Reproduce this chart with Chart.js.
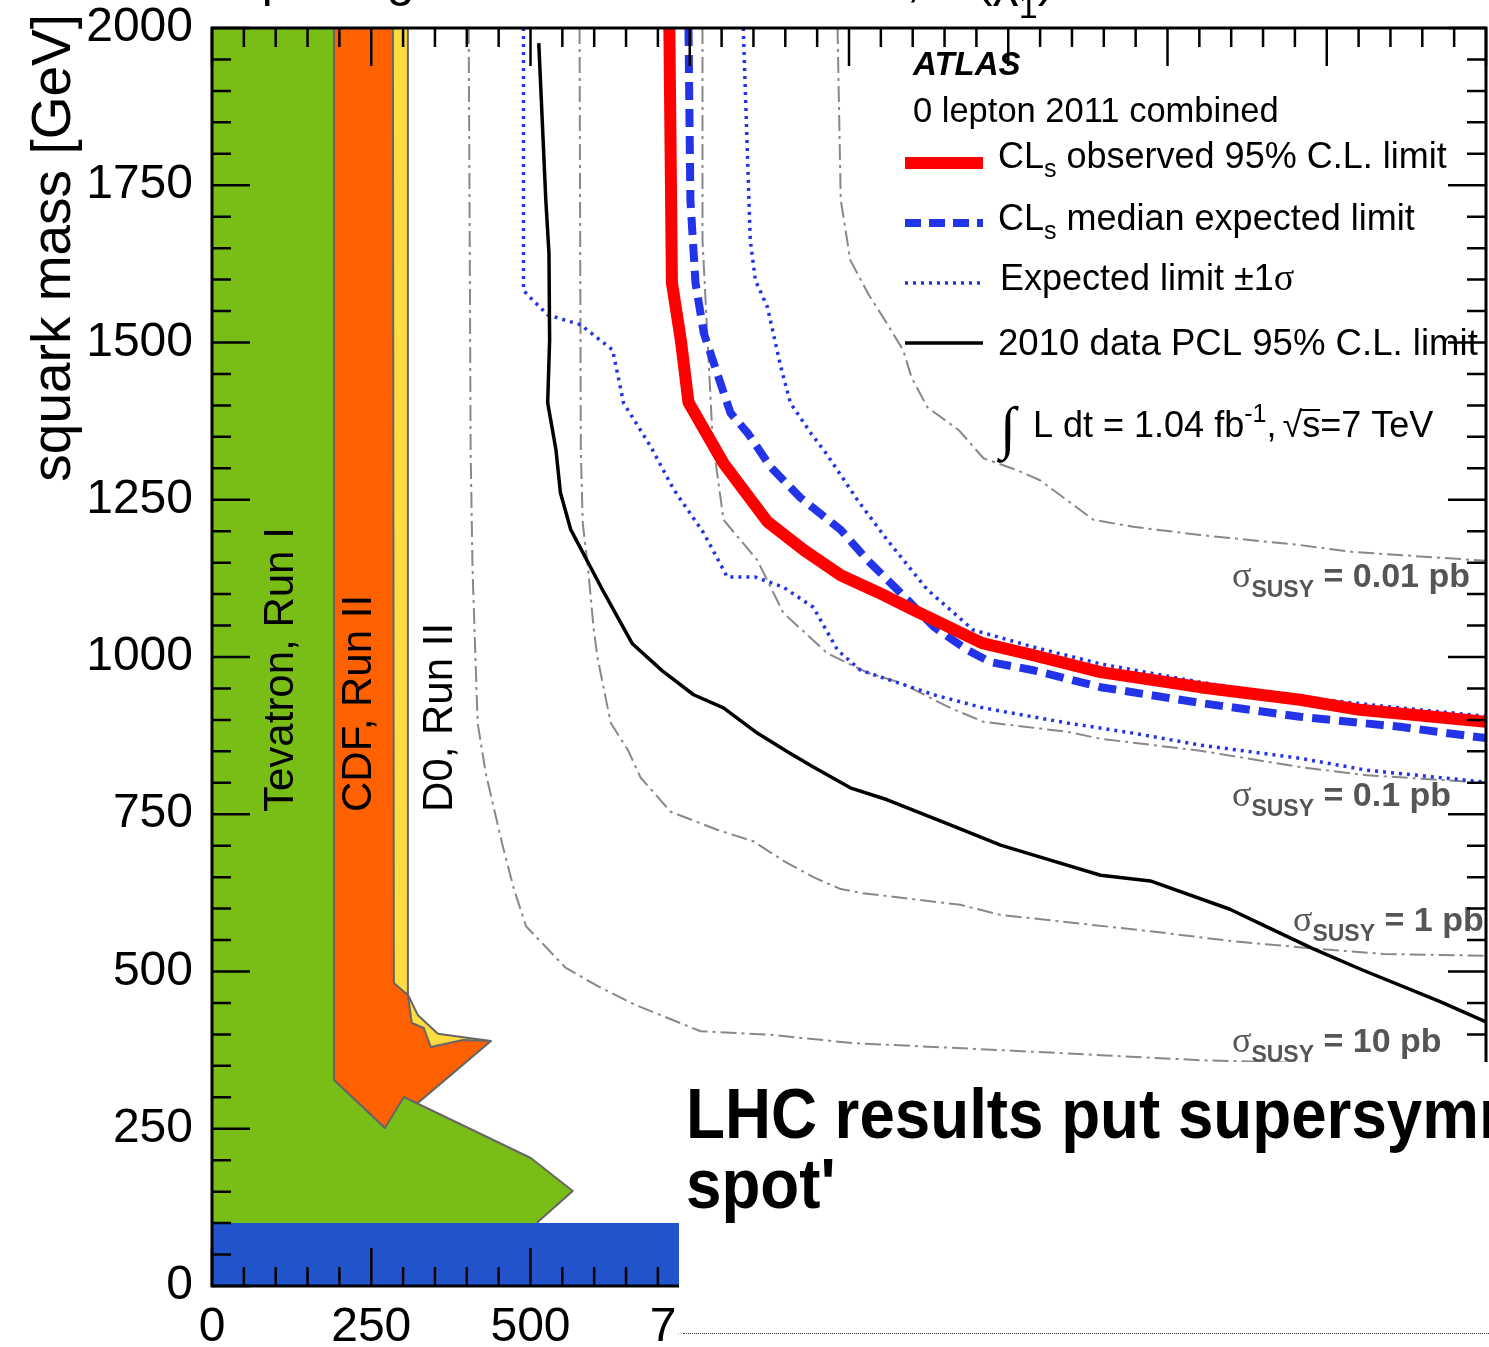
<!DOCTYPE html>
<html>
<head>
<meta charset="utf-8">
<script src="https://cdn.jsdelivr.net/npm/chart.js@4.4.0/dist/chart.umd.min.js"></script>
<style>
html, body { margin: 0; padding: 0; background: #fff; }
#wrap { position: relative; width: 1489px; height: 1347px; overflow: hidden; }
#c { position: absolute; left: 0; top: 0; }
#news { position: absolute; left: 679px; top: 1062px; width: 810px; height: 285px; background: #fff; overflow: hidden; }
#news .head { position: absolute; left: 7px; top: 17px; font: bold 70px/70px "Liberation Sans", Arial, sans-serif; white-space: nowrap; transform: scaleX(0.91); transform-origin: 0 0; color: #000; }
#news .rule { position: absolute; left: 4px; top: 271px; width: 806px; border-top: 1px dotted #333; }
</style>
</head>
<body>
<div id="wrap">
<canvas id="c" width="1489" height="1347"></canvas>
<div id="news"><div class="head">LHC results put supersymmetry in 'tight<br>spot'</div><div class="rule"></div></div>
</div>
<script>
// gluino mass (x) vs squark mass (y), GeV
const massTicks = [0, 250, 500, 750, 1000, 1250, 1500, 1750, 2000];

// excluded regions
const d0Run2 = [[0,2000],[307.5,2000],[307.5,463],[323,431],[354.5,401],[437.6,389.5],[324.7,292.5],[271.4,251.2],[0,251.2],[0,2000]];
const cdfRun2 = [[0,2000],[284,2000],[285.5,481.7],[307.5,462.6],[313.7,418.1],[332.5,410.2],[343.5,380],[393.7,391.1],[437.6,389.5],[324.7,292.5],[271.4,251.2],[191.4,327.5],[0,327.5],[0,2000]];
const tevatronRun1 = [[0,2000],[191.4,2000],[191.4,327.5],[271.4,251.2],[301.2,300.5],[500.4,203.5],[566.3,151],[511.4,101.7],[500,0],[0,0],[0,2000]];
const lepBand = [[0,0],[0,100],[2000,100],[2000,0],[0,0]];

// limits
const observedCLs = [[718,2000],[722,1595],[736,1504],[748,1405],[803,1308],[872,1215],[929,1170],[987,1130],[1045,1103],[1101,1075],[1144,1054],[1209,1022],[1289,1003],[1395,976],[1551,952],[1708,932],[1802,916],[2000,897]];
const expectedCLs = [[748,2000],[751,1727],[759,1595],[772,1515],[798,1436],[814,1388],[841,1356],[877,1302],[924,1253],[987,1202],[1029,1154],[1081,1102],[1133,1048],[1186,1011],[1222,992],[1289,979],[1395,952],[1551,927],[1708,905],[1865,889],[2000,871]];
const expectedMinus1 = [[489,2000],[489,1583],[497,1574],[527,1544],[579,1528],[629,1488],[642,1424],[646,1404],[689,1334],[725,1266],[772,1197],[809,1127],[853,1127],[897,1111],[944,1079],[982,1011],[1018,979],[1133,940],[1211,919],[1343,895],[1446,879],[1551,860],[1708,839],[1813,820],[2000,801]];
const expectedPlus1 = [[834,2000],[845,1663],[853,1599],[872,1556],[893,1461],[908,1404],[940,1356],[966,1321],[1013,1250],[1060,1186],[1123,1107],[1195,1043],[1289,1016],[1395,989],[1551,960],[1708,936],[1865,919],[2000,906]];
const pcl2010 = [[513,1976],[524,1727],[529,1642],[530,1504],[527,1404],[540,1329],[547,1261],[563,1203],[615,1103],[660,1021],[707,978],[756,940],[803,919],[856,879],[904,849],[944,825],[1002,792],[1060,773],[1159,733],[1238,701],[1316,677],[1395,653],[1473,644],[1598,599],[1656,571],[1729,536],[1807,502],[1928,452],[2000,420]];

// cross-section contours
const xsec10pb = [[403,2000],[405,1568],[406,1329],[409,1140],[417,895],[430,814],[456,701],[474,631],[493,572],[555,506],[605,477],[662,448],[767,405],[882,399],[1007,386],[1238,375],[1395,367],[1551,359],[2000,347]];
const xsec1pb = [[577,2000],[579,1329],[582,1213],[591,1134],[599,1046],[605,1000],[626,895],[653,852],[673,808],[720,754],[794,725],[850,707],[897,676],[944,650],[987,631],[1018,625],[1175,606],[1238,590],[1473,564],[1603,548],[1735,536],[1838,528],[2000,525]];
const xsec01pb = [[770,2000],[770,1663],[778,1504],[786,1345],[803,1218],[856,1154],[897,1070],[966,1006],[1029,975],[1081,959],[1159,919],[1211,897],[1343,881],[1395,870],[1551,851],[1708,825],[1813,812],[2000,800]];
const xsec001pb = [[982,2000],[987,1727],[1002,1631],[1031,1576],[1056,1536],[1085,1488],[1098,1445],[1123,1397],[1172,1361],[1211,1316],[1264,1297],[1300,1281],[1384,1218],[1446,1207],[1551,1194],[1708,1178],[1791,1167],[2000,1153]];

const F = '"Liberation Sans", Arial, Helvetica, sans-serif';
const BLUE = '#2233e8';
const GREY = '#555';

function pts(a) { return a.map(([x, y]) => ({x, y})); }

function region(label, arr, color, order, edge) {
    return { label, data: pts(arr), showLine: true, fill: 'shape', backgroundColor: color,
        borderColor: '#666', borderWidth: edge, pointRadius: 0, order, clip: 0, borderJoinStyle: 'round' };
}
function curve(label, arr, color, width, dash, order) {
    return { label, data: pts(arr), showLine: true, fill: false, borderColor: color, borderWidth: width,
        borderDash: dash, pointRadius: 0, order, clip: 0, borderJoinStyle: 'round' };
}

function runs(ctx, x, y, parts) {
    for (const p of parts) {
        ctx.font = p.f;
        ctx.fillText(p.t, x, y + (p.dy || 0));
        x += ctx.measureText(p.t).width;
    }
    return x;
}

function sample(ctx, y, color, width, dash) {
    ctx.save();
    ctx.strokeStyle = color;
    ctx.lineWidth = width;
    ctx.setLineDash(dash);
    ctx.beginPath();
    ctx.moveTo(905, y);
    ctx.lineTo(983, y);
    ctx.stroke();
    ctx.restore();
}

function sigmaLabel(ctx, x, y, value) {
    ctx.fillStyle = GREY;
    runs(ctx, x, y, [
        {t: '\u03c3', f: `36px "Liberation Serif", serif`},
        {t: 'SUSY', f: `bold 23px ${F}`, dy: 10},
        {t: ' = ' + value, f: `bold 34px ${F}`}
    ]);
}

const annotations = {
    id: 'annotations',
    afterDraw(chart) {
        const ctx = chart.ctx;
        ctx.save();
        ctx.textAlign = 'left';
        ctx.textBaseline = 'alphabetic';
        ctx.fillStyle = '#000';

        // rotated band labels
        const vtext = (t, x, y, size) => {
            ctx.save();
            ctx.translate(x, y);
            ctx.rotate(-Math.PI / 2);
            ctx.font = `${size}px ${F}`;
            ctx.fillText(t, 0, 0);
            ctx.restore();
        };
        vtext('Tevatron, Run I', 293, 812, 42);
        vtext('CDF, Run II', 371, 812, 42);
        vtext('D0, Run II', 452, 812, 42);

        // axis title
        ctx.save();
        ctx.font = `55px ${F}`;
        const tw = ctx.measureText('squark mass [GeV]').width;
        ctx.translate(70, 14 + tw);
        ctx.rotate(-Math.PI / 2);
        ctx.fillText('squark mass [GeV]', 0, 0);
        ctx.restore();

        // plot title, mostly above the picture
        let tx = runs(ctx, 220, -4, [{t: 'squark-gluino-neutralino model, m(\u03c7', f: `50px ${F}`}]);
        tx = runs(ctx, tx, 18, [{t: '1', f: `34px ${F}`}]);
        runs(ctx, tx, -4, [{t: ') = 0', f: `50px ${F}`}]);

        // legend
        ctx.font = `italic bold 33px ${F}`;
        ctx.fillText('ATLAS', 913, 75);
        ctx.font = `34.5px ${F}`;
        ctx.fillText('0 lepton 2011 combined', 913, 122);
        sample(ctx, 163, '#ff0000', 12, []);
        runs(ctx, 998, 168, [{t: 'CL', f: `36px ${F}`}, {t: 's', f: `25px ${F}`, dy: 9}, {t: ' observed 95% C.L. limit', f: `36px ${F}`}]);
        sample(ctx, 223, BLUE, 8, [16, 8]);
        runs(ctx, 998, 230, [{t: 'CL', f: `36px ${F}`}, {t: 's', f: `25px ${F}`, dy: 9}, {t: ' median expected limit', f: `36px ${F}`}]);
        sample(ctx, 283, BLUE, 3.5, [3, 5]);
        runs(ctx, 1000, 290, [{t: 'Expected limit \u00b11', f: `36px ${F}`}, {t: '\u03c3', f: `38px "Liberation Serif", serif`}]);
        sample(ctx, 343, '#000', 3.5, []);
        ctx.font = `36.6px ${F}`;
        ctx.fillText('2010 data PCL 95% C.L. limit', 998, 355);

        ctx.font = `58px "Liberation Serif", serif`;
        ctx.fillText('\u222b', 1000, 447);
        let lx = runs(ctx, 1033, 437, [{t: 'L dt = 1.04 fb', f: `36px ${F}`}, {t: '-1', f: `25px ${F}`, dy: -15}, {t: ', ', f: `36px ${F}`}]);
        ctx.font = `36px ${F}`;
        ctx.fillText('\u221a', lx - 4, 437);
        const rw = ctx.measureText('\u221a').width;
        const sw = ctx.measureText('s').width;
        ctx.fillRect(lx - 4 + rw - 2, 409, sw + 2, 2);
        runs(ctx, lx - 4 + rw, 437, [{t: 's=7 TeV', f: `36px ${F}`}]);

        // cross-section labels
        sigmaLabel(ctx, 1232, 587, '0.01 pb');
        sigmaLabel(ctx, 1232, 806, '0.1 pb');
        sigmaLabel(ctx, 1293, 931, '1 pb');
        sigmaLabel(ctx, 1232, 1052, '10 pb');

        // frame with inward ticks on all sides
        const a = chart.chartArea;
        const sx = chart.scales.x, sy = chart.scales.y;
        ctx.strokeStyle = '#000';
        ctx.lineWidth = 2.5;
        ctx.beginPath();
        for (let v = 0; v <= 2000; v += 50) {
            const len = v % 250 === 0 ? 38 : 19;
            const px = sx.getPixelForValue(v);
            const py = sy.getPixelForValue(v);
            ctx.moveTo(px, a.bottom); ctx.lineTo(px, a.bottom - len);
            ctx.moveTo(px, a.top); ctx.lineTo(px, a.top + len);
            ctx.moveTo(a.left, py); ctx.lineTo(a.left + len, py);
            ctx.moveTo(a.right, py); ctx.lineTo(a.right - len, py);
        }
        ctx.stroke();
        ctx.lineWidth = 3;
        ctx.strokeRect(a.left, a.top, a.right - a.left, a.bottom - a.top);
        ctx.restore();
    }
};

Chart.defaults.font.family = F;

new Chart(document.getElementById('c'), {
    type: 'scatter',
    data: {
        datasets: [
            region('D0, Run II', d0Run2, '#ffdc40', 20, 2),
            region('CDF, Run II', cdfRun2, '#ff6000', 19, 2),
            region('Tevatron, Run I', tevatronRun1, '#79be17', 18, 2),
            region('LEP', lepBand, '#2255cc', 17, 0),
            curve('10 pb', xsec10pb, '#888', 2, [16, 5, 3, 5], 10),
            curve('1 pb', xsec1pb, '#888', 2, [16, 5, 3, 5], 10),
            curve('0.1 pb', xsec01pb, '#888', 2, [16, 5, 3, 5], 10),
            curve('0.01 pb', xsec001pb, '#888', 2, [16, 5, 3, 5], 10),
            curve('Expected -1 sigma', expectedMinus1, BLUE, 3.5, [3, 5], 6),
            curve('Expected +1 sigma', expectedPlus1, BLUE, 3.5, [3, 5], 6),
            curve('2010 data PCL 95% C.L. limit', pcl2010, '#000', 3.5, [], 4),
            curve('CLs median expected limit', expectedCLs, BLUE, 8, [18, 9], 3),
            curve('CLs observed 95% C.L. limit', observedCLs, '#ff0000', 12, [], 1)
        ]
    },
    options: {
        responsive: false,
        animation: false,
        devicePixelRatio: 1,
        layout: { padding: { top: 28, right: 3, left: 0, bottom: 0 } },
        plugins: { legend: { display: false }, tooltip: { enabled: false } },
        scales: {
            x: {
                type: 'linear', min: 0, max: 2000,
                afterBuildTicks: s => { s.ticks = massTicks.map(v => ({value: v})); },
                ticks: { font: { size: 48 }, color: '#000', padding: 13, maxRotation: 0, autoSkip: false, callback: v => String(v) },
                grid: { display: false, drawTicks: false },
                border: { display: false },
                afterFit: s => { s.height = 61; s.paddingLeft = 0; s.paddingRight = 0; }
            },
            y: {
                type: 'linear', min: 0, max: 2000,
                afterBuildTicks: s => { s.ticks = massTicks.map(v => ({value: v})); },
                ticks: { font: { size: 48 }, color: '#000', padding: 19, autoSkip: false, callback: v => String(v) },
                grid: { display: false, drawTicks: false },
                border: { display: false },
                afterFit: s => { s.width = 212; s.paddingTop = 0; s.paddingBottom = 0; }
            }
        }
    },
    plugins: [annotations]
});
</script>
</body>
</html>
